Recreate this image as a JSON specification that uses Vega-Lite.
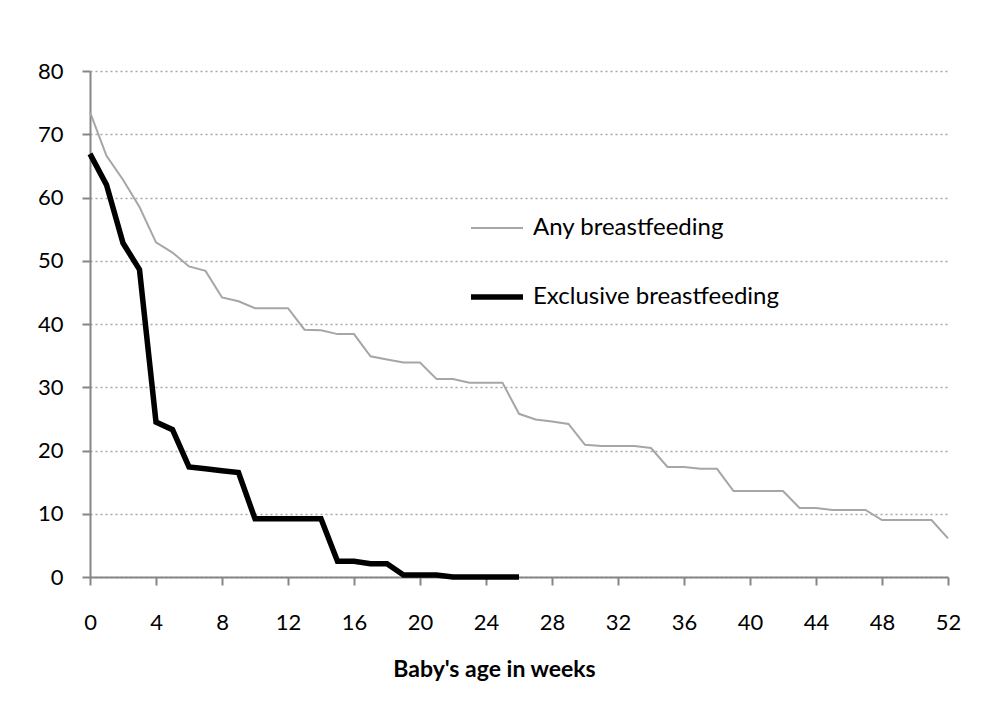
{
  "$schema": "https://vega.github.io/schema/vega-lite/v6.json",
  "width": 858,
  "height": 506,
  "autosize": {"type": "none"},
  "padding": {"left": 90, "top": 71, "right": 37, "bottom": 125},
  "background": "white",
  "config": {
    "view": {"stroke": null},
    "font": "Lato",
    "axis": {
      "labelFont": "Lato",
      "titleFont": "Lato",
      "labelFontSize": 22,
      "labelColor": "#000000",
      "titleColor": "#000000",
      "domainColor": "#868686",
      "domainWidth": 2,
      "tickColor": "#868686",
      "tickWidth": 2,
      "tickSize": 8
    }
  },
  "data": {
    "values": [
      {"week": 0, "series": "Any breastfeeding", "value": 73.5},
      {"week": 1, "series": "Any breastfeeding", "value": 66.6},
      {"week": 2, "series": "Any breastfeeding", "value": 62.8},
      {"week": 3, "series": "Any breastfeeding", "value": 58.5},
      {"week": 4, "series": "Any breastfeeding", "value": 52.9},
      {"week": 5, "series": "Any breastfeeding", "value": 51.3},
      {"week": 6, "series": "Any breastfeeding", "value": 49.1},
      {"week": 7, "series": "Any breastfeeding", "value": 48.4},
      {"week": 8, "series": "Any breastfeeding", "value": 44.2},
      {"week": 9, "series": "Any breastfeeding", "value": 43.6},
      {"week": 10, "series": "Any breastfeeding", "value": 42.5},
      {"week": 11, "series": "Any breastfeeding", "value": 42.5},
      {"week": 12, "series": "Any breastfeeding", "value": 42.5},
      {"week": 13, "series": "Any breastfeeding", "value": 39.1},
      {"week": 14, "series": "Any breastfeeding", "value": 39.0},
      {"week": 15, "series": "Any breastfeeding", "value": 38.4},
      {"week": 16, "series": "Any breastfeeding", "value": 38.4},
      {"week": 17, "series": "Any breastfeeding", "value": 34.9},
      {"week": 18, "series": "Any breastfeeding", "value": 34.4},
      {"week": 19, "series": "Any breastfeeding", "value": 33.9},
      {"week": 20, "series": "Any breastfeeding", "value": 33.9},
      {"week": 21, "series": "Any breastfeeding", "value": 31.3},
      {"week": 22, "series": "Any breastfeeding", "value": 31.3},
      {"week": 23, "series": "Any breastfeeding", "value": 30.7},
      {"week": 24, "series": "Any breastfeeding", "value": 30.7},
      {"week": 25, "series": "Any breastfeeding", "value": 30.7},
      {"week": 26, "series": "Any breastfeeding", "value": 25.8},
      {"week": 27, "series": "Any breastfeeding", "value": 24.9},
      {"week": 28, "series": "Any breastfeeding", "value": 24.6},
      {"week": 29, "series": "Any breastfeeding", "value": 24.2},
      {"week": 30, "series": "Any breastfeeding", "value": 20.9},
      {"week": 31, "series": "Any breastfeeding", "value": 20.7},
      {"week": 32, "series": "Any breastfeeding", "value": 20.7},
      {"week": 33, "series": "Any breastfeeding", "value": 20.7},
      {"week": 34, "series": "Any breastfeeding", "value": 20.4},
      {"week": 35, "series": "Any breastfeeding", "value": 17.4},
      {"week": 36, "series": "Any breastfeeding", "value": 17.4},
      {"week": 37, "series": "Any breastfeeding", "value": 17.1},
      {"week": 38, "series": "Any breastfeeding", "value": 17.1},
      {"week": 39, "series": "Any breastfeeding", "value": 13.6},
      {"week": 40, "series": "Any breastfeeding", "value": 13.6},
      {"week": 41, "series": "Any breastfeeding", "value": 13.6},
      {"week": 42, "series": "Any breastfeeding", "value": 13.6},
      {"week": 43, "series": "Any breastfeeding", "value": 10.9},
      {"week": 44, "series": "Any breastfeeding", "value": 10.9},
      {"week": 45, "series": "Any breastfeeding", "value": 10.6},
      {"week": 46, "series": "Any breastfeeding", "value": 10.6},
      {"week": 47, "series": "Any breastfeeding", "value": 10.6},
      {"week": 48, "series": "Any breastfeeding", "value": 9.0},
      {"week": 49, "series": "Any breastfeeding", "value": 9.0},
      {"week": 50, "series": "Any breastfeeding", "value": 9.0},
      {"week": 51, "series": "Any breastfeeding", "value": 9.0},
      {"week": 52, "series": "Any breastfeeding", "value": 6.1},
      {"week": 0, "series": "Exclusive breastfeeding", "value": 66.9},
      {"week": 1, "series": "Exclusive breastfeeding", "value": 62.0},
      {"week": 2, "series": "Exclusive breastfeeding", "value": 52.8},
      {"week": 3, "series": "Exclusive breastfeeding", "value": 48.6},
      {"week": 4, "series": "Exclusive breastfeeding", "value": 24.5},
      {"week": 5, "series": "Exclusive breastfeeding", "value": 23.3},
      {"week": 6, "series": "Exclusive breastfeeding", "value": 17.4},
      {"week": 7, "series": "Exclusive breastfeeding", "value": 17.1},
      {"week": 8, "series": "Exclusive breastfeeding", "value": 16.8},
      {"week": 9, "series": "Exclusive breastfeeding", "value": 16.5},
      {"week": 10, "series": "Exclusive breastfeeding", "value": 9.2},
      {"week": 11, "series": "Exclusive breastfeeding", "value": 9.2},
      {"week": 12, "series": "Exclusive breastfeeding", "value": 9.2},
      {"week": 13, "series": "Exclusive breastfeeding", "value": 9.2},
      {"week": 14, "series": "Exclusive breastfeeding", "value": 9.2},
      {"week": 15, "series": "Exclusive breastfeeding", "value": 2.5},
      {"week": 16, "series": "Exclusive breastfeeding", "value": 2.5},
      {"week": 17, "series": "Exclusive breastfeeding", "value": 2.1},
      {"week": 18, "series": "Exclusive breastfeeding", "value": 2.1},
      {"week": 19, "series": "Exclusive breastfeeding", "value": 0.3},
      {"week": 20, "series": "Exclusive breastfeeding", "value": 0.3},
      {"week": 21, "series": "Exclusive breastfeeding", "value": 0.3},
      {"week": 22, "series": "Exclusive breastfeeding", "value": 0},
      {"week": 23, "series": "Exclusive breastfeeding", "value": 0},
      {"week": 24, "series": "Exclusive breastfeeding", "value": 0},
      {"week": 25, "series": "Exclusive breastfeeding", "value": 0},
      {"week": 26, "series": "Exclusive breastfeeding", "value": 0}
    ]
  },
  "mark": {"type": "line", "strokeJoin": "miter", "strokeCap": "butt"},
  "encoding": {
    "x": {
      "field": "week",
      "type": "quantitative",
      "scale": {"domain": [0, 52], "nice": false, "zero": false},
      "axis": {
        "values": [0, 4, 8, 12, 16, 20, 24, 28, 32, 36, 40, 44, 48, 52],
        "grid": false,
        "title": "Baby's age in weeks",
        "titleFontSize": 23,
        "titleFontWeight": "bold",
        "titlePadding": 25,
        "titleX": 404,
        "titleAlign": "center",
        "labelPadding": 27,
        "labelFlush": false
      }
    },
    "y": {
      "field": "value",
      "type": "quantitative",
      "scale": {"domain": [0, 80], "nice": false},
      "axis": {
        "values": [0, 10, 20, 30, 40, 50, 60, 70, 80],
        "title": null,
        "grid": true,
        "gridColor": "#a6a6a6",
        "gridDash": [2, 3],
        "gridWidth": 1.5,
        "labelPadding": 19
      }
    },
    "color": {
      "field": "series",
      "type": "nominal",
      "scale": {"domain": ["Any breastfeeding", "Exclusive breastfeeding"], "range": ["#a6a6a6", "#000000"]},
      "legend": {
        "title": null,
        "orient": "none",
        "legendX": 378,
        "legendY": 130,
        "symbolType": "stroke",
        "symbolSize": 2704,
        "labelFontSize": 24,
        "labelFont": "Lato",
        "labelColor": "#000000",
        "labelOffset": 7,
        "labelLimit": 400,
        "rowPadding": 28
      }
    },
    "strokeWidth": {
      "field": "series",
      "type": "nominal",
      "scale": {"domain": ["Any breastfeeding", "Exclusive breastfeeding"], "range": [2, 5.5]},
      "legend": null
    }
  }
}
